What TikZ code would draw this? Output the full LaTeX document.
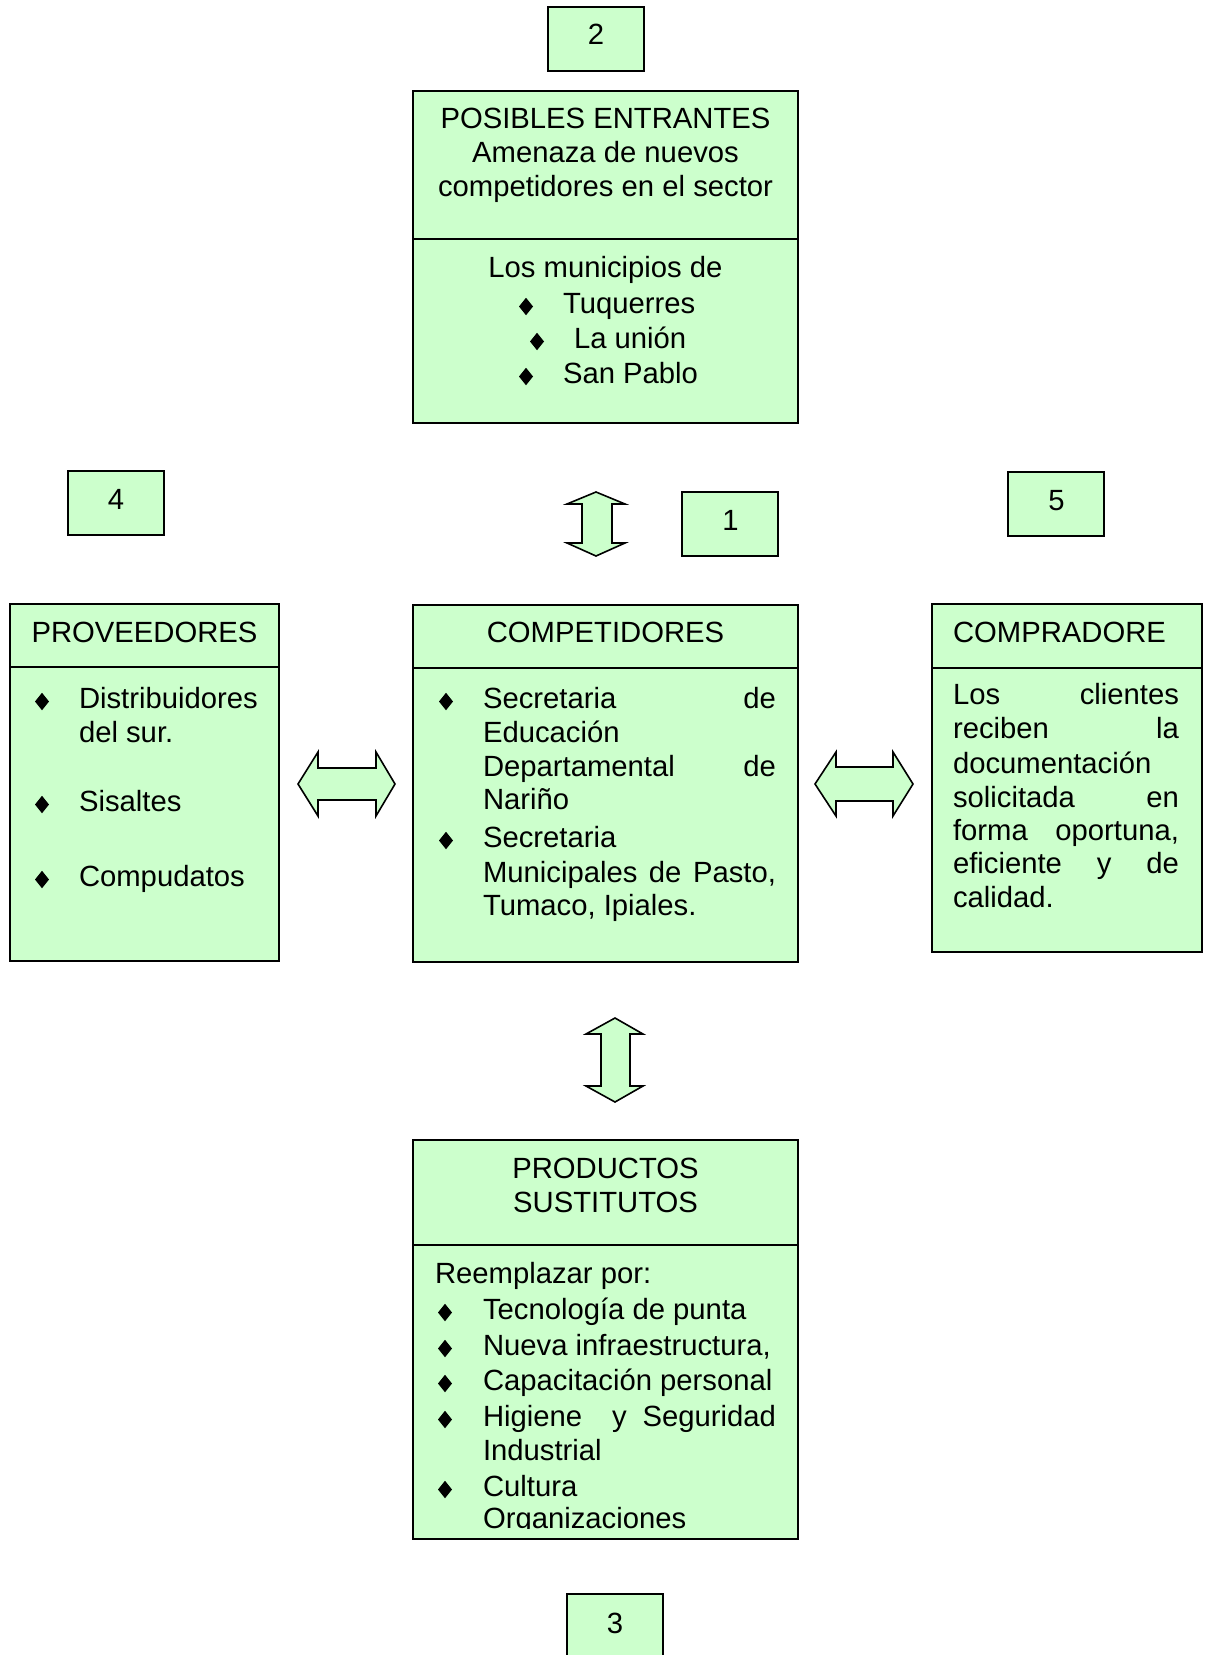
\documentclass[tikz,border=0pt]{standalone}
\usepackage{fontspec}
\setmainfont{Liberation Sans}
\usetikzlibrary{shapes.geometric}
\definecolor{panelgreen}{HTML}{CCFFCC}

\begin{document}
\begin{tikzpicture}[x=1pt,y=-1pt,
  panel/.style={draw=black, fill=panelgreen, line width=1.8pt, anchor=north west,
                inner sep=0pt, outer sep=0pt},
  numbox/.style={panel, minimum width=96, minimum height=64},
  txt/.style={font=\fontsize{29.25}{34.5}\selectfont, inner sep=0pt, outer sep=0pt,
              anchor=base west},
  ctxt/.style={txt, anchor=base},
  bul/.style={diamond, fill=black, inner sep=0pt, outer sep=0pt,
              minimum width=14, minimum height=17.5},
  blockarrow/.style={draw=black, fill=panelgreen, line width=1.6pt, line join=miter},
  divider/.style={line width=1.8pt}]

\useasboundingbox (0,0) rectangle (1207,1655);
\clip (0,0) rectangle (1207,1655);

% ---------- numbered tags ----------
\node[numbox] (n2) at (548,7) {};
\node[ctxt] (l2) at (596,44) {2};
\node[numbox] (n4) at (68,471) {};
\node[ctxt] (l4) at (116,509) {4};
\node[numbox] (n1) at (682,492) {};
\node[ctxt] (l1) at (730.5,530) {1};
\node[numbox] (n5) at (1008,472) {};
\node[ctxt] (l5) at (1056.5,510) {5};
\node[numbox] (n3) at (567,1594) {};
\node[ctxt] (l3) at (615,1633) {3};

% ---------- posibles entrantes ----------
\node[panel, minimum width=385, minimum height=332] (ent) at (413,91) {};
\draw[divider] (ent.west |- 0,239) -- (ent.east |- 0,239);
\node[ctxt] (e1) at (605.5,128) {POSIBLES ENTRANTES};
\node[ctxt] (e2) at (605.5,162) {Amenaza de nuevos};
\node[ctxt] (e3) at (605.5,196) {competidores en el sector};
\node[ctxt] (e4) at (605.5,277) {Los municipios de};
\node[bul] (eb1) at (526,306.5) {};
\node[txt] (e5) at (563,313) {Tuquerres};
\node[bul] (eb2) at (537,341.5) {};
\node[txt] (e6) at (574,348) {La unión};
\node[bul] (eb3) at (526,376.5) {};
\node[txt] (e7) at (563,383) {San Pablo};

% ---------- proveedores ----------
\node[panel, minimum width=269, minimum height=357] (prov) at (10,604) {};
\draw[divider] (prov.west |- 0,667) -- (prov.east |- 0,667);
\node[ctxt] (v0) at (144.5,642) {PROVEEDORES};
\node[bul] (vb1) at (42,701.5) {};
\node[txt] (v1) at (79,708) {Distribuidores};
\node[txt] (v2) at (79,742) {del sur.};
\node[bul] (vb2) at (42,804.5) {};
\node[txt] (v3) at (79,811) {Sisaltes};
\node[bul] (vb3) at (42,879.5) {};
\node[txt] (v4) at (79,886) {Compudatos};

% ---------- competidores ----------
\node[panel, minimum width=385, minimum height=357] (comp) at (413,605) {};
\draw[divider] (comp.west |- 0,668) -- (comp.east |- 0,668);
\node[ctxt] (c0) at (605.5,642) {COMPETIDORES};
\node[bul] (cb1) at (446,701.5) {};
\node[txt] (c1) at (483,708) {\hbox to 293pt{Secretaria\hfill de}};
\node[txt] (c2) at (483,742) {Educación};
\node[txt] (c3) at (483,776) {\hbox to 293pt{Departamental\hfill de}};
\node[txt] (c4) at (483,809) {Nariño};
\node[bul] (cb2) at (446,840.5) {};
\node[txt] (c5) at (483,847) {Secretaria};
\node[txt] (c6) at (483,882) {\hbox to 293pt{Municipales de Pasto,}};
\node[txt] (c7) at (483,915) {Tumaco, Ipiales.};

% ---------- compradores ----------
\node[panel, minimum width=270, minimum height=348] (buy) at (932,604) {};
\draw[divider] (buy.west |- 0,668) -- (buy.east |- 0,668);
\node[txt] (k0) at (953,642) {COMPRADORE};
\node[txt] (k1) at (953,704) {\hbox to 226pt{Los\hfill clientes}};
\node[txt] (k2) at (953,738) {\hbox to 226pt{reciben\hfill la}};
\node[txt] (k3) at (953,773) {documentación};
\node[txt] (k4) at (953,807) {\hbox to 226pt{solicitada\hfill en}};
\node[txt] (k5) at (953,840) {\hbox to 226pt{forma\hfill oportuna,}};
\node[txt] (k6) at (953,873) {\hbox to 226pt{eficiente\hfill y\hfill de}};
\node[txt] (k7) at (953,907) {calidad.};

% ---------- productos sustitutos ----------
\node[panel, minimum width=385, minimum height=399] (sust) at (413,1140) {};
\draw[divider] (sust.west |- 0,1245) -- (sust.east |- 0,1245);
\node[ctxt] (p0) at (605.5,1178) {PRODUCTOS};
\node[ctxt] (p00) at (605.5,1212) {SUSTITUTOS};
\node[txt] (p1) at (435,1283) {Reemplazar por:};
\node[bul] (pb1) at (445,1312.5) {};
\node[txt] (p2) at (483,1319) {Tecnología de punta};
\node[bul] (pb2) at (445,1348.5) {};
\node[txt] (p3) at (483,1355) {Nueva infraestructura,};
\node[bul] (pb3) at (445,1383.5) {};
\node[txt] (p4) at (483,1390) {Capacitación personal};
\node[bul] (pb4) at (445,1419.5) {};
\node[txt] (p5) at (483,1426) {\hbox to 293pt{Higiene\hspace{30pt}y\hfill Seguridad}};
\node[txt] (p6) at (483,1460) {Industrial};
\node[bul] (pb5) at (445,1489.5) {};
\node[txt] (p7) at (483,1496) {Cultura};
\begin{scope}
  \clip (413,1140) rectangle (798,1528.5);
  \node[txt] (p8) at (483,1528) {Organizaciones};
\end{scope}

% ---------- double block arrows ----------
\draw[blockarrow] (596,492) -- (625,504) -- (612,504) -- (612,543) -- (625,543)
  -- (596,556) -- (567,543) -- (582,543) -- (582,504) -- (567,504) -- cycle;
\draw[blockarrow] (615,1018) -- (643,1034) -- (630,1034) -- (630,1086) -- (643,1086)
  -- (615,1102) -- (586,1086) -- (601,1086) -- (601,1034) -- (586,1034) -- cycle;
\draw[blockarrow] (298,784) -- (318,752) -- (318,768) -- (376,768) -- (376,752)
  -- (395,784) -- (376,816) -- (376,800) -- (318,800) -- (318,816) -- cycle;
\draw[blockarrow] (815,784) -- (836,752) -- (836,767) -- (893,767) -- (893,752)
  -- (913,784) -- (893,816) -- (893,801) -- (836,801) -- (836,816) -- cycle;

\end{tikzpicture}
\end{document}
